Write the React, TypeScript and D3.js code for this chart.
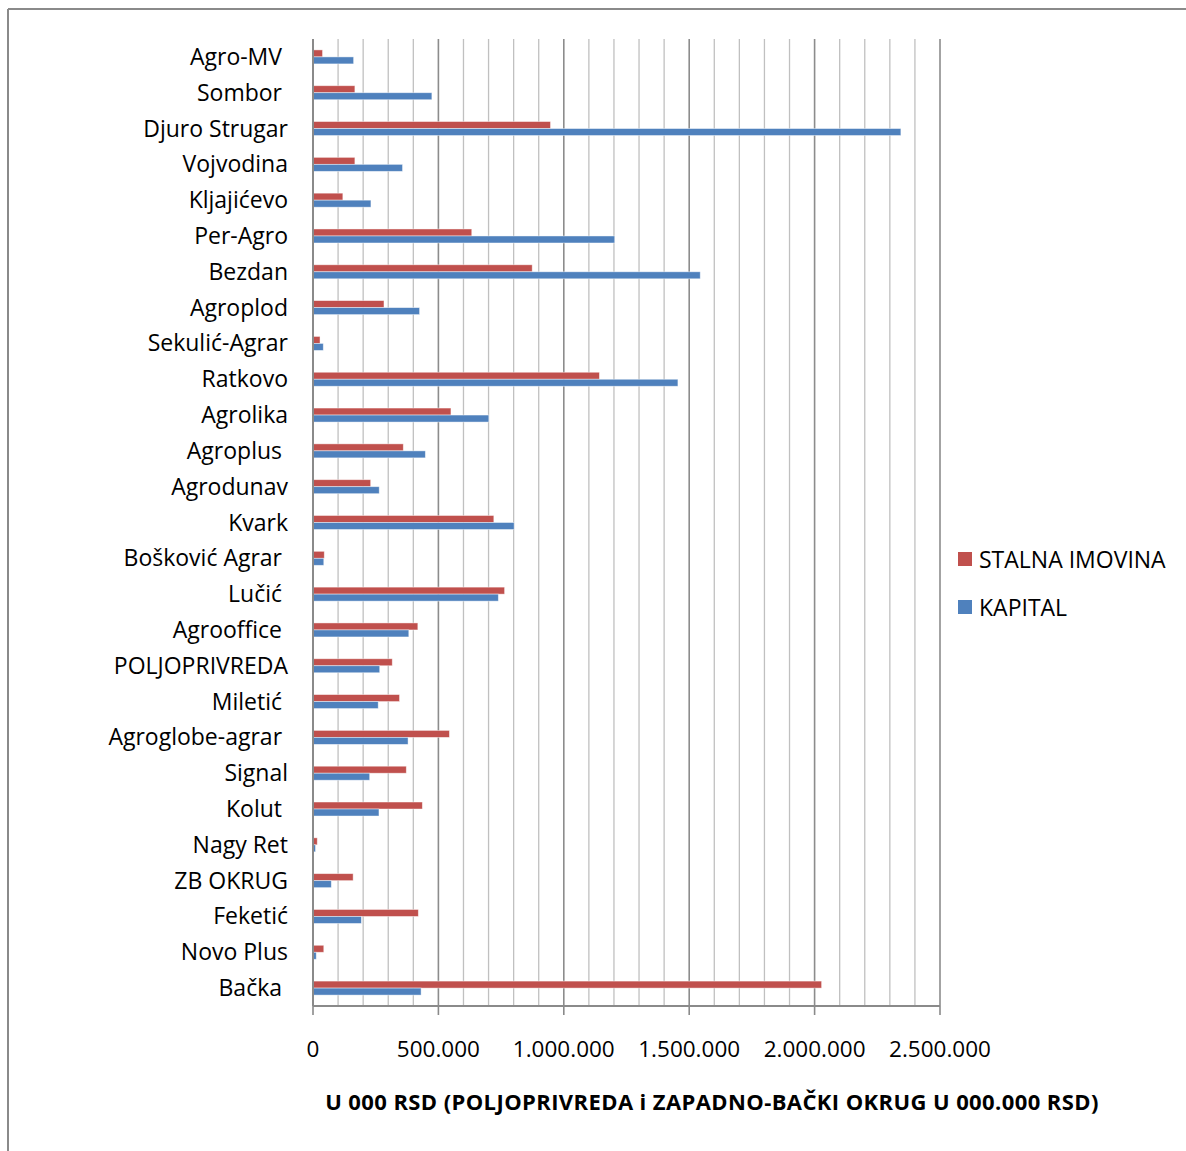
import { useEffect } from "react";
import { scaleLinear, scaleBand, range } from "d3";

// categories top -> bottom (trailing spaces kept as in the original labels)
const categories = [
  "Agro-MV ",
  "Sombor ",
  "Djuro Strugar",
  "Vojvodina",
  "Kljajićevo",
  "Per-Agro",
  "Bezdan",
  "Agroplod",
  "Sekulić-Agrar",
  "Ratkovo",
  "Agrolika",
  "Agroplus ",
  "Agrodunav",
  "Kvark",
  "Bošković Agrar ",
  "Lučić ",
  "Agrooffice ",
  "POLJOPRIVREDA",
  "Miletić ",
  "Agroglobe-agrar ",
  "Signal",
  "Kolut ",
  "Nagy Ret",
  "ZB OKRUG",
  "Feketić",
  "Novo Plus",
  "Bačka ",
];

const stalnaImovina = [
  38000, 167000, 947000, 167000, 119000, 633000, 874000, 283000, 28000,
  1142000, 550000, 360000, 230000, 721000, 45000, 764000, 418000, 316000,
  345000, 544000, 372000, 436000, 17000, 160000, 420000, 43000, 2028000,
];

const kapital = [
  162000, 474000, 2344000, 357000, 231000, 1203000, 1544000, 425000, 41000,
  1455000, 701000, 448000, 264000, 802000, 43000, 739000, 382000, 266000,
  260000, 379000, 226000, 263000, 10000, 73000, 193000, 13000, 431000,
];

const xTicks = [0, 500000, 1000000, 1500000, 2000000, 2500000];
const xTickLabels = ["0", "500.000", "1.000.000", "1.500.000", "2.000.000", "2.500.000"];

const series = [
  { name: "STALNA IMOVINA", color: "#C0504D", values: stalnaImovina },
  { name: "KAPITAL", color: "#4F81BD", values: kapital },
];

const W = 1186;
const H = 1151;
const font = "'Open Sans', 'Noto Sans', sans-serif";

export default function App() {
  useEffect(() => {
    document.body.style.margin = "0";
  }, []);

  const plot = { left: 313, right: 940, top: 39, bottom: 1006 };

  const x = scaleLinear().domain([0, 2500000]).range([plot.left, plot.right]);
  const y = scaleBand<string>()
    .domain(categories)
    .range([plot.top, plot.bottom]);
  const barH = 7;

  const minor = range(0, 2500001, 100000);

  return (
    <svg width={W} height={H} style={{ display: "block", background: "#fff" }}>
      {/* chart frame (cut off at the page edge) */}
      <line x1={8} x2={8} y1={9} y2={H} stroke="#8a8a8a" strokeWidth={2} />
      <line x1={8} x2={W} y1={9} y2={9} stroke="#8a8a8a" strokeWidth={2} />

      {/* grid */}
      {minor.map((v) => (
        <line
          key={v}
          x1={x(v)}
          x2={x(v)}
          y1={plot.top}
          y2={plot.bottom}
          stroke={v % 500000 === 0 ? "#8c8c8c" : "#c0c0c0"}
          strokeWidth={v % 500000 === 0 ? 1.6 : 1.3}
        />
      ))}

      {/* bars */}
      {categories.map((c, i) => {
        const mid = (y(c) as number) + y.bandwidth() / 2;
        return (
          <g key={c}>
            {series.map((s, j) => (
              <rect
                key={s.name}
                x={x(0)}
                y={mid - barH + j * barH}
                width={x(s.values[i]) - x(0)}
                height={barH}
                fill={s.color}
                stroke="#ffffff"
                strokeOpacity={0.55}
                strokeWidth={0.8}
              />
            ))}
          </g>
        );
      })}

      {/* axes */}
      <line x1={plot.left} x2={plot.left} y1={plot.top} y2={plot.bottom} stroke="#8a8a8a" strokeWidth={2} />
      <line x1={plot.left} x2={plot.right} y1={plot.bottom} y2={plot.bottom} stroke="#8a8a8a" strokeWidth={2} />
      {xTicks.map((v, i) => (
        <g key={v}>
          <line x1={x(v)} x2={x(v)} y1={plot.bottom} y2={plot.bottom + 9} stroke="#8a8a8a" strokeWidth={1.6} />
          <text
            x={x(v)}
            y={1057}
            textAnchor="middle"
            fontFamily={font}
            fontSize={22.5}
            fill="#000"
          >
            {xTickLabels[i]}
          </text>
        </g>
      ))}

      {/* category labels */}
      {categories.map((c) => (
        <text
          key={c}
          x={288}
          y={(y(c) as number) + y.bandwidth() / 2 + 8}
          textAnchor="end"
          fontFamily={font}
          fontSize={23}
          fill="#000"
          style={{ whiteSpace: "pre" }}
        >
          {c}
        </text>
      ))}

      {/* axis title */}
      <text
        x={712}
        y={1110}
        textAnchor="middle"
        fontFamily={font}
        fontSize={22}
        fontWeight="bold"
        letterSpacing={0.4}
        fill="#000"
      >
        U 000 RSD (POLJOPRIVREDA i ZAPADNO-BAČKI OKRUG U 000.000 RSD)
      </text>

      {/* legend */}
      {series.map((s, i) => (
        <g key={s.name} transform={`translate(958, ${552 + i * 48})`}>
          <rect x={0} y={0} width={14} height={14} fill={s.color} />
          <text x={21} y={16} fontFamily={font} fontSize={23} fill="#000">
            {s.name}
          </text>
        </g>
      ))}
    </svg>
  );
}
